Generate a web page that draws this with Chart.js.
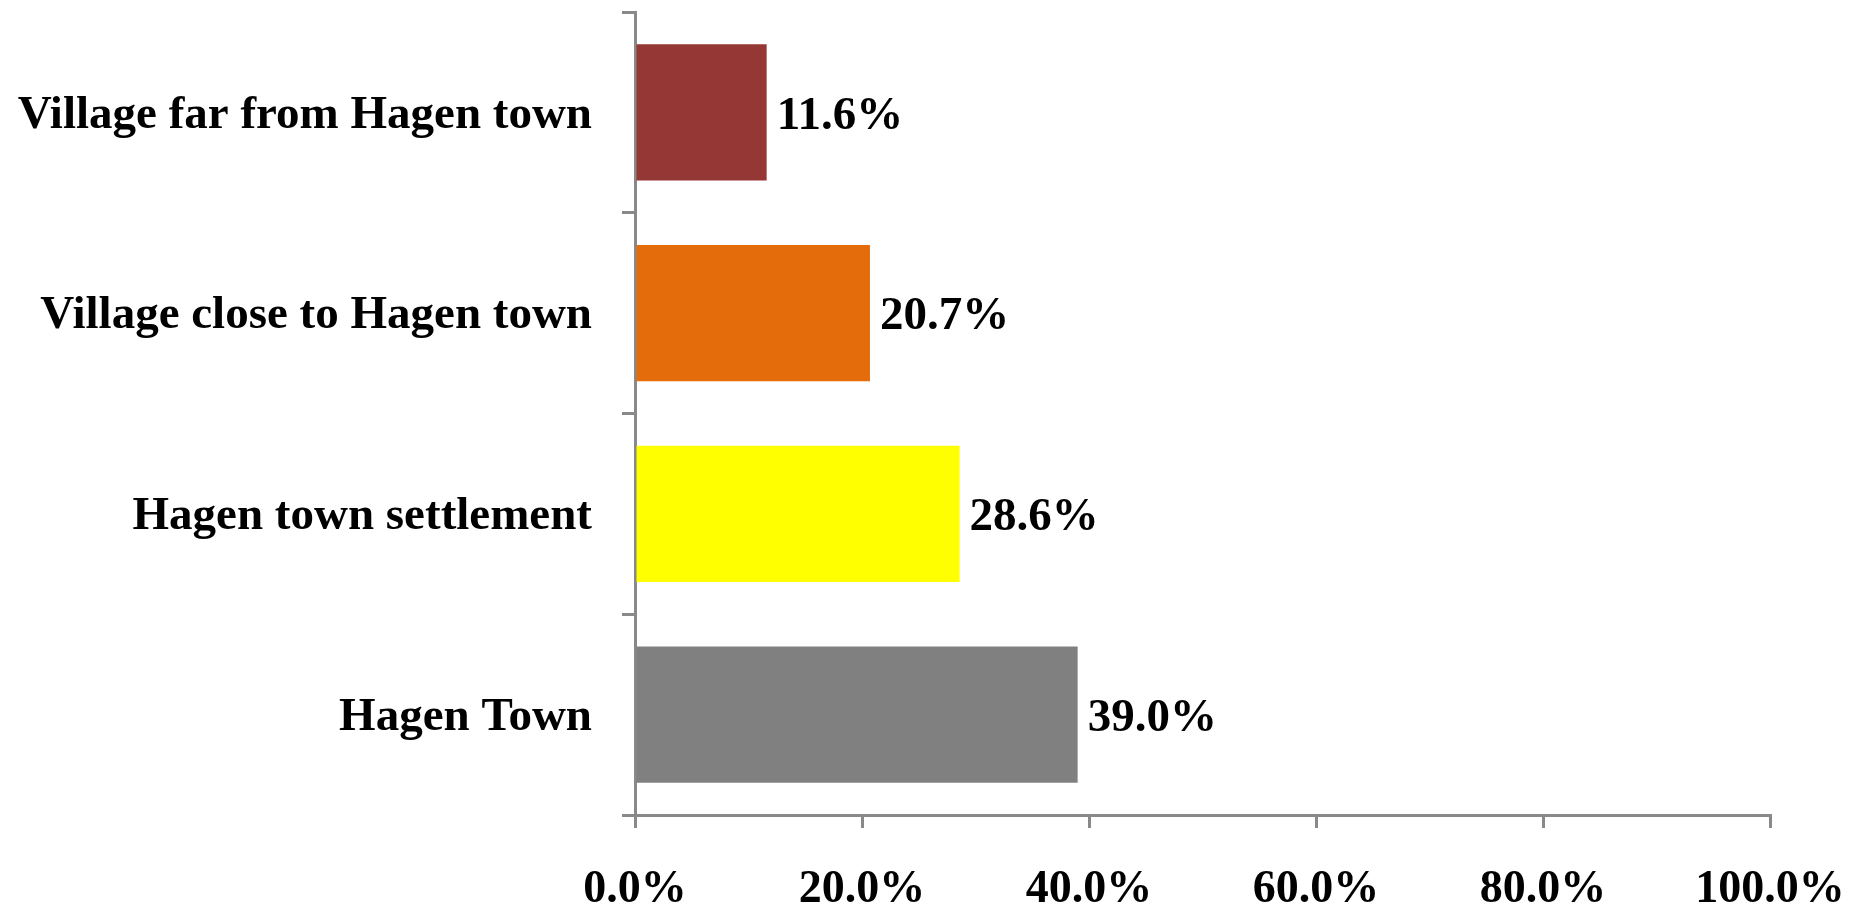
<!DOCTYPE html>
<html>
<head>
<meta charset="utf-8">
<script src="https://cdn.jsdelivr.net/npm/chart.js@4/dist/chart.umd.min.js"></script>
<style>
html,body{margin:0;padding:0;background:#fff;}
#wrap{width:1858px;height:909px;position:relative;}
</style>
</head>
<body>
<div id="wrap"><canvas id="c"></canvas></div>
<script>
const categories = ["Village far from Hagen town", "Village close to Hagen town", "Hagen town settlement", "Hagen Town"];
const values = [11.6, 20.7, 28.6, 39.0];
const barColors = ["#953735", "#E46C0A", "#FFFF00", "#808080"];
const xTickMin = 0, xTickMax = 100, xTickStep = 20;

const axisGray = "#898989";
const FONT = "'Liberation Serif', 'Times New Roman', serif";

const valueLabels = {
  id: 'valueLabels',
  afterDatasetsDraw(chart) {
    const ctx = chart.ctx;
    const meta = chart.getDatasetMeta(0);
    ctx.save();
    ctx.font = "bold 47px " + FONT;
    ctx.fillStyle = "#000";
    ctx.textAlign = "left";
    ctx.textBaseline = "middle";
    meta.data.forEach((bar, i) => {
      ctx.fillText(values[i].toFixed(1) + "%", bar.x + 10, bar.y + 4);
    });
    ctx.restore();
  }
};

new Chart(document.getElementById('c'), {
  type: 'bar',
  data: {
    labels: categories,
    datasets: [{
      data: values,
      backgroundColor: barColors,
      borderWidth: 0,
      barPercentage: 0.678,
      categoryPercentage: 1.0
    }]
  },
  options: {
    indexAxis: 'y',
    responsive: true,
    maintainAspectRatio: false,
    animation: false,
    layout: { padding: { top: 12, right: 88, bottom: 0, left: 0 } },
    plugins: { legend: { display: false }, tooltip: { enabled: false } },
    scales: {
      x: {
        min: xTickMin, max: xTickMax,
        ticks: {
          stepSize: xTickStep,
          color: "#000",
          font: { family: FONT, size: 46, weight: 'bold' },
          padding: 35,
          maxRotation: 0,
          callback: v => Number(v).toFixed(1) + "%"
        },
        grid: { drawOnChartArea: false, drawTicks: true, tickLength: 13, color: axisGray, lineWidth: 3 },
        border: { display: true, color: axisGray, width: 3 },
        afterFit(scale) { scale.height = 94; scale.paddingLeft = 0; scale.paddingRight = 0; }
      },
      y: {
        ticks: {
          color: "#000",
          font: { family: FONT, size: 47, weight: 'bold' },
          padding: 30,
          labelOffset: 3
        },
        grid: { drawOnChartArea: false, drawTicks: true, tickLength: 13, color: axisGray, lineWidth: 3, offset: true },
        border: { display: true, color: axisGray, width: 3 },
        afterFit(scale) { scale.width = 635; scale.paddingTop = 0; scale.paddingBottom = 0; }
      }
    }
  },
  plugins: [valueLabels]
});
</script>
</body>
</html>
